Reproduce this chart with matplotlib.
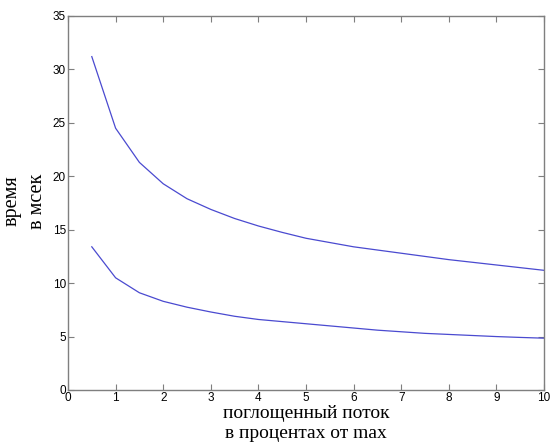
import matplotlib
matplotlib.use("Agg")
import matplotlib.pyplot as plt

x = [0.5, 1, 1.5, 2, 2.5, 3, 3.5, 4, 4.5, 5, 5.5, 6, 6.5, 7, 7.5, 8, 8.5, 9, 9.5, 10]
upper = [31.2, 24.5, 21.3, 19.3, 17.9, 16.9, 16.05, 15.35, 14.75, 14.2, 13.8, 13.4,
         13.1, 12.8, 12.5, 12.2, 11.95, 11.7, 11.45, 11.2]
lower = [13.4, 10.5, 9.1, 8.3, 7.75, 7.3, 6.9, 6.6, 6.4, 6.2, 6.0, 5.8,
         5.6, 5.45, 5.3, 5.2, 5.1, 5.0, 4.92, 4.85]
xticks = list(range(0, 11))
yticks = [0, 5, 10, 15, 20, 25, 30, 35]
xlabel = "поглощенный поток\nв процентах от max"
ylabel = "время\nв мсек"

fig = plt.figure(figsize=(5.5, 4.43), dpi=100)
ax = fig.add_axes([68/550, 53/443, 476/550, 374/443])

line_color = "#4a4ad0"
ax.plot(x, upper, color=line_color, lw=0.9)
ax.plot(x, lower, color=line_color, lw=0.9)

ax.set_xlim(0, 10)
ax.set_ylim(0, 35)
ax.set_xticks(xticks)
ax.set_yticks(yticks)

axis_color = "#7f7f7f"
for s in ax.spines.values():
    s.set_color(axis_color)
    s.set_linewidth(1.0)
ax.tick_params(direction="in", length=4, width=0.8, color=axis_color,
               top=True, right=True, labelsize=8.5, labelcolor="black", pad=1.5)
for lab in ax.get_xticklabels() + ax.get_yticklabels():
    lab.set_family("Liberation Sans")

fig.text(306/550, 1 - 423.5/443, xlabel, family="Liberation Serif", fontsize=14,
         ha="center", va="center", linespacing=1.25)
fig.text(25/550, 1 - 201/443, ylabel, family="Liberation Serif", fontsize=14.5,
         ha="center", va="center", rotation=90, linespacing=1.5,
         multialignment="center")

fig.savefig("out.png", dpi=100)
